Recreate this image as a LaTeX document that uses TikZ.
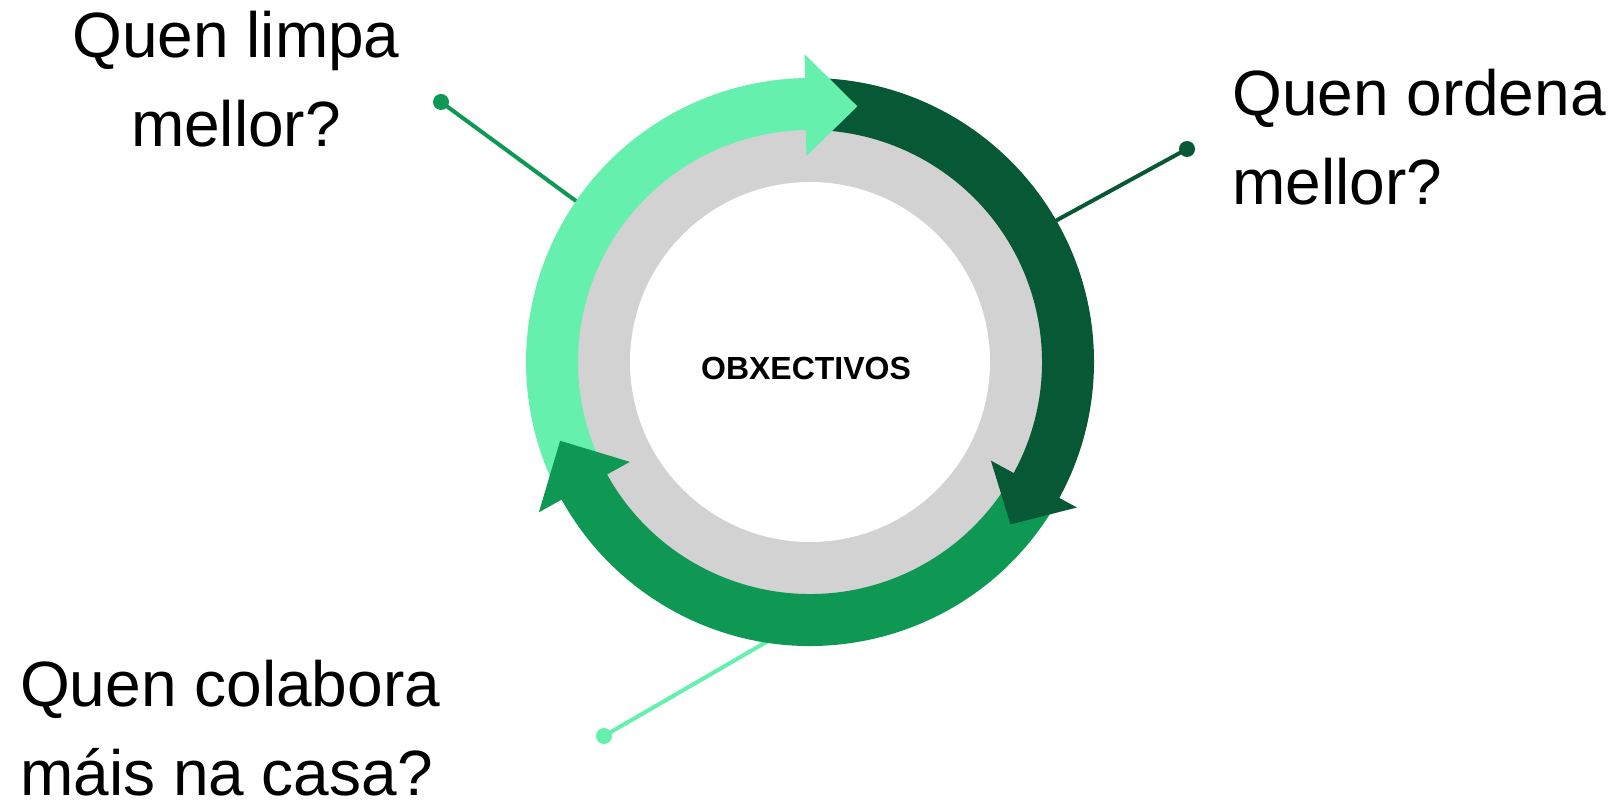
\documentclass[tikz,border=0pt]{standalone}
\usepackage{fontspec}
\setmainfont{Liberation Sans}
\usetikzlibrary{calc}
\definecolor{lite}{RGB}{102,240,174}
\definecolor{deep}{RGB}{7,88,52}
\definecolor{midgreen}{RGB}{15,152,84}
\definecolor{dotgray}{RGB}{210,210,210}
\tikzset{
  label text/.style={font=\fontsize{64}{89}\selectfont, inner sep=0pt},
  leader/.style={line width=4pt},
  pin dot/.style={circle, fill, inner sep=0pt, minimum size=16pt},
}

\begin{document}
\begin{tikzpicture}[x=1pt,y=1pt]
\useasboundingbox (0,0) rectangle (1621,804);
\coordinate (ring) at (810,442);
%pins and leader lines
\node[pin dot, midgreen] (pinL) at (441,702) {};
\node[pin dot, deep] (pinR) at (1187,655) {};
\node[pin dot, lite] (pinB) at (604,68) {};
\coordinate (endL) at ($(ring)+(145.5:280)$);
\coordinate (endR) at ($(ring)+(29.9:280)$);
\coordinate (endB) at ($(ring)+(262:280)$);
\draw[leader, midgreen] (pinL.center) -- (endL);
\draw[leader, deep] (pinR.center) -- (endR);
\draw[leader, lite] (pinB.center) -- (endB);
%gray ring
\fill[dotgray] (ring) circle[radius=234];
\fill[white] (ring) circle[radius=180];
%arrow bodies
\fill[lite] ($(ring)+(204:284)$) arc[start angle=204, end angle=89, radius=284]
  -- ($(ring)+(89:232)$) arc[start angle=89, end angle=204, radius=232] -- cycle;
\fill[deep] ($(ring)+(88:284)$) arc[start angle=88, end angle=-30.5, radius=284]
  -- ($(ring)+(-30.5:232)$) arc[start angle=-30.5, end angle=88, radius=232] -- cycle;
\fill[midgreen] ($(ring)+(-31:284)$) arc[start angle=-31, end angle=-153, radius=284]
  -- ($(ring)+(-153:232)$) arc[start angle=-153, end angle=-31, radius=232] -- cycle;
%arrow heads
\fill[lite] ($(ring)+(91:206)$) -- ($(ring)+(91:308)$) -- ($(ring)+(79.5:260)$) -- cycle;
\fill[deep] ($(ring)+(-28.6:206)$) -- ($(ring)+(-28.6:304)$) -- ($(ring)+(-39:258)$) -- cycle;
\fill[midgreen] ($(ring)+(209:206)$) -- ($(ring)+(209:310)$) -- ($(ring)+(197.5:262)$) -- cycle;
%texts
\node[font=\bfseries\fontsize{32}{38}\selectfont] (goal) at (806,436) {OBXECTIVOS};
\node[label text, anchor=base, align=center] (limpa) at (236,657) {Quen limpa\\mellor?};
\node[label text, anchor=base west, align=left] (ordena) at (1232,599) {Quen ordena\\mellor?};
\node[label text, anchor=base west, align=left] (colabora) at (20,9) {Quen colabora\\máis na casa?};
\end{tikzpicture}
\end{document}
